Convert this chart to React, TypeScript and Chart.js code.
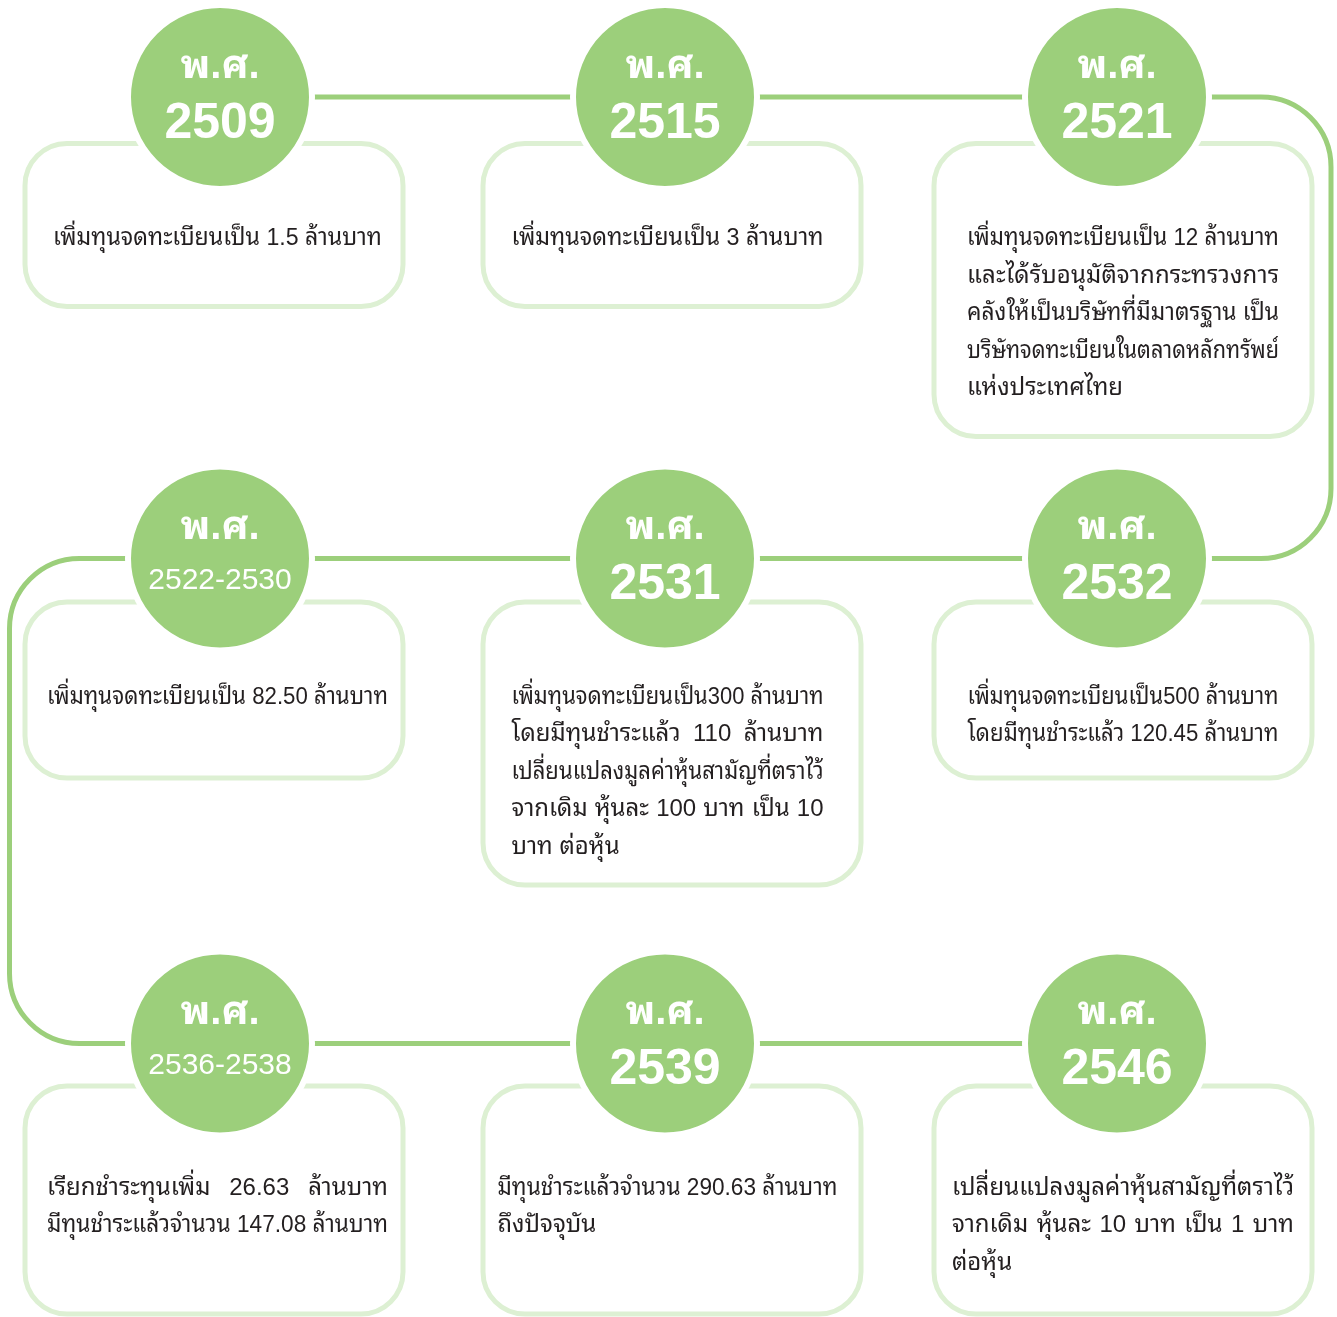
import { useEffect, useRef } from "react";
import { Chart, registerables } from "chart.js";

Chart.register(...registerables);

// ---------- data ----------
const eraLabel = "พ.ศ.";
const years = ["2509", "2515", "2521", "2532", "2531", "2522-2530", "2536-2538", "2539", "2546"];
// grid slot (column / row) of each milestone along the snake-shaped timeline
const slotCol = [0, 1, 2, 2, 1, 0, 0, 1, 2];
const slotRow = [0, 0, 0, 1, 1, 1, 2, 2, 2];
const descriptions: string[][] = [
  ["เพิ่มทุนจดทะเบียนเป็น 1.5 ล้านบาท"],
  ["เพิ่มทุนจดทะเบียนเป็น 3 ล้านบาท"],
  [
    "เพิ่มทุนจดทะเบียนเป็น 12 ล้านบาท",
    "และได้รับอนุมัติจากกระทรวงการ",
    "คลังให้เป็นบริษัทที่มีมาตรฐาน เป็น",
    "บริษัทจดทะเบียนในตลาดหลักทรัพย์",
    "แห่งประเทศไทย",
  ],
  ["เพิ่มทุนจดทะเบียนเป็น500 ล้านบาท", "โดยมีทุนชำระแล้ว 120.45 ล้านบาท"],
  [
    "เพิ่มทุนจดทะเบียนเป็น300 ล้านบาท",
    "โดยมีทุนชำระแล้ว 110 ล้านบาท",
    "เปลี่ยนแปลงมูลค่าหุ้นสามัญที่ตราไว้",
    "จากเดิม หุ้นละ 100 บาท เป็น 10",
    "บาท ต่อหุ้น",
  ],
  ["เพิ่มทุนจดทะเบียนเป็น 82.50 ล้านบาท"],
  ["เรียกชำระทุนเพิ่ม 26.63 ล้านบาท", "มีทุนชำระแล้วจำนวน 147.08 ล้านบาท"],
  ["มีทุนชำระแล้วจำนวน 290.63 ล้านบาท", "ถึงปัจจุบัน"],
  ["เปลี่ยนแปลงมูลค่าหุ้นสามัญที่ตราไว้", "จากเดิม หุ้นละ 10 บาท เป็น 1 บาท", "ต่อหุ้น"],
];

// ---------- layout (scale units) ----------
const W = 1337;
const H = 1317;
const COL_X = [220, 665, 1117];
const ROW_Y = [97, 558.5, 1043.5];
const RIGHT_X = 1331;
const LEFT_X = 9.5;
const CORNER_R = 70;
const BOX_LEFT = [25, 483, 934];
const BOX_W = 378;
const BOX_TOP = [143.5, 602, 1086];
const boxHeights = [163, 163, 293, 176, 283, 176, 228, 228, 228];
const TEXT_CX = [217.5, 667.5, 1123];
const textWidths = [329, 312, 312, 311, 312, 341, 341, 340, 342];
const TEXT_FIRST_DY = [95, 95, 102];
const LINE_H = 37.5;

// ---------- style ----------
const GREEN = "#9ccf7b";
const LIGHT_GREEN = "#ddf0d3";
const TEXT_COLOR = "#231f20";
const THAI_FONT = '"Liberation Sans", "Noto Sans Thai Looped", "Noto Sans Thai", "Noto Sans", sans-serif';

const segmenter: any =
  typeof Intl !== "undefined" && (Intl as any).Segmenter
    ? new (Intl as any).Segmenter("th", { granularity: "grapheme" })
    : null;

function drawJustified(ctx: CanvasRenderingContext2D, text: string, left: number, y: number, width: number) {
  const natural = ctx.measureText(text).width;
  if (natural >= width) {
    ctx.fillText(text, left, y, width);
    return;
  }
  if (natural < width * 0.85) {
    ctx.fillText(text, left, y);
    return;
  }
  const words = text.split(" ");
  if (words.length > 1) {
    const ws = words.map((w) => ctx.measureText(w).width);
    const total = ws.reduce((a, b) => a + b, 0);
    const gap = (width - total) / (words.length - 1);
    let x = left;
    words.forEach((w, i) => {
      ctx.fillText(w, x, y);
      x += ws[i] + gap;
    });
    return;
  }
  if (segmenter) {
    const parts: string[] = Array.from(segmenter.segment(text), (s: any) => s.segment);
    const ws = parts.map((p) => ctx.measureText(p).width);
    const total = ws.reduce((a, b) => a + b, 0);
    const gap = parts.length > 1 ? (width - total) / (parts.length - 1) : 0;
    let x = left;
    parts.forEach((p, i) => {
      ctx.fillText(p, x, y);
      x += ws[i] + gap;
    });
    return;
  }
  ctx.fillText(text, left, y);
}

const decorPlugin = {
  id: "timelineDecor",
  beforeDatasetsDraw(chart: any) {
    const { ctx, scales } = chart;
    const px = (v: number) => scales.x.getPixelForValue(v);
    const py = (v: number) => scales.y.getPixelForValue(v);
    ctx.save();
    // connector
    ctx.strokeStyle = GREEN;
    ctx.lineWidth = 5;
    ctx.lineJoin = "round";
    ctx.beginPath();
    ctx.moveTo(px(COL_X[0]), py(ROW_Y[0]));
    ctx.arcTo(px(RIGHT_X), py(ROW_Y[0]), px(RIGHT_X), py(ROW_Y[1]), CORNER_R);
    ctx.arcTo(px(RIGHT_X), py(ROW_Y[1]), px(COL_X[0]), py(ROW_Y[1]), CORNER_R);
    ctx.arcTo(px(LEFT_X), py(ROW_Y[1]), px(LEFT_X), py(ROW_Y[2]), CORNER_R);
    ctx.arcTo(px(LEFT_X), py(ROW_Y[2]), px(COL_X[2]), py(ROW_Y[2]), CORNER_R);
    ctx.lineTo(px(COL_X[2]), py(ROW_Y[2]));
    ctx.stroke();

    // boxes + descriptions
    years.forEach((_, i) => {
      const c = slotCol[i];
      const r = slotRow[i];
      const x0 = px(BOX_LEFT[c]);
      const x1 = px(BOX_LEFT[c] + BOX_W);
      const y0 = py(BOX_TOP[r]);
      const y1 = py(BOX_TOP[r] + boxHeights[i]);
      ctx.strokeStyle = LIGHT_GREEN;
      ctx.lineWidth = 5;
      ctx.beginPath();
      ctx.roundRect(x0, y0, x1 - x0, y1 - y0, 42);
      ctx.stroke();

      ctx.fillStyle = TEXT_COLOR;
      ctx.font = `24px ${THAI_FONT}`;
      ctx.textAlign = "left";
      ctx.textBaseline = "middle";
      const tw = textWidths[i];
      const left = px(TEXT_CX[c] - tw / 2);
      descriptions[i].forEach((line, k) => {
        const y = py(BOX_TOP[r] + TEXT_FIRST_DY[r] + k * LINE_H);
        drawJustified(ctx, line, left, y, tw);
      });
    });
    ctx.restore();
  },
  afterDatasetsDraw(chart: any) {
    const { ctx } = chart;
    const meta = chart.getDatasetMeta(0);
    ctx.save();
    ctx.fillStyle = "#ffffff";
    ctx.textAlign = "center";
    ctx.textBaseline = "alphabetic";
    meta.data.forEach((pt: any, i: number) => {
      const long = years[i].length > 4;
      ctx.font = `bold 40px ${THAI_FONT}`;
      ctx.fillText(eraLabel, pt.x, pt.y - (long ? 20 : 19.5));
      ctx.font = long ? `500 30px "Liberation Sans", sans-serif` : `bold 50px "Liberation Sans", sans-serif`;
      ctx.fillText(years[i], pt.x, pt.y + (long ? 30 : 40.5));
    });
    ctx.restore();
  },
};

export default function App() {
  const canvasRef = useRef<HTMLCanvasElement | null>(null);
  useEffect(() => {
    const canvas = canvasRef.current;
    if (!canvas) return;
    const chart = new Chart(canvas, {
      type: "scatter",
      data: {
        datasets: [
          {
            data: years.map((_, i) => ({ x: COL_X[slotCol[i]], y: ROW_Y[slotRow[i]] })),
            pointRadius: 92,
            pointHoverRadius: 92,
            pointBackgroundColor: GREEN,
            pointBorderColor: "#ffffff",
            pointBorderWidth: 6,
            pointHoverBorderWidth: 6,
            clip: false as any,
          },
        ],
      },
      options: {
        animation: false,
        responsive: false,
        events: [],
        layout: { padding: 0, autoPadding: false },
        scales: {
          x: { type: "linear", min: 0, max: W, display: false },
          y: { type: "linear", min: 0, max: H, reverse: true, display: false },
        },
        plugins: { legend: { display: false }, tooltip: { enabled: false } },
      },
      plugins: [decorPlugin],
    });
    return () => chart.destroy();
  }, []);
  return (
    <div style={{ position: "absolute", left: 0, top: 0, width: W, height: H, background: "#fff" }}>
      <canvas ref={canvasRef} width={W} height={H} style={{ display: "block", width: W, height: H }} />
    </div>
  );
}
